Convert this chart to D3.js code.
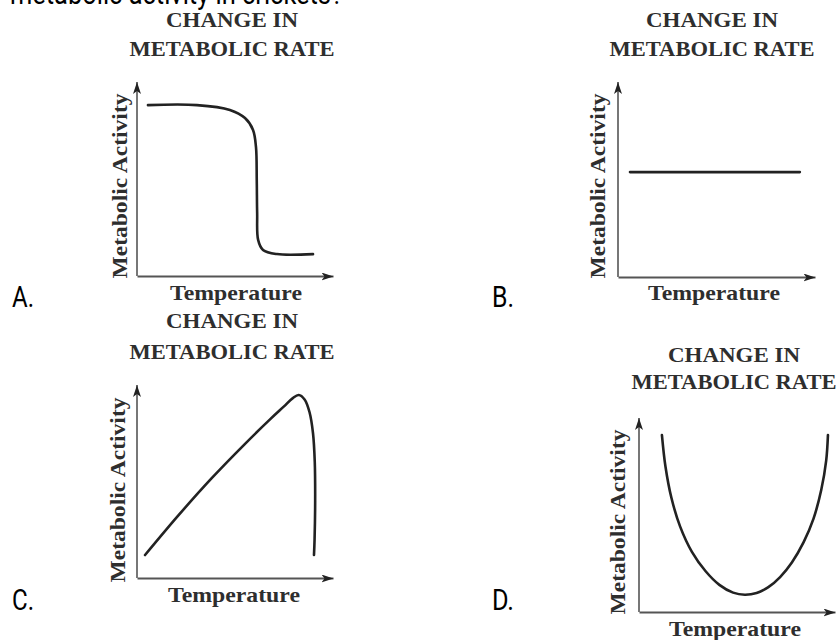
<!DOCTYPE html>
<html>
<head>
<meta charset="utf-8">
<script src="https://cdn.jsdelivr.net/npm/d3@7"></script>
<style>
  body { margin: 0; background: #fff; }
  svg { display: block; }
  .serif { font-family: "Liberation Serif", "DejaVu Serif", serif; font-weight: bold; fill: #2e2e2e; }
  .sans { font-family: Roboto, "Liberation Sans", sans-serif; fill: #000; }
</style>
</head>
<body>
<div id="chart"></div>
<script>
// ---- data ----
const question = "metabolic activity in crickets?";
const panelLetters = ["A.", "B.", "C.", "D."];
const titleLines = ["CHANGE IN", "METABOLIC RATE"];
const yLabel = "Metabolic Activity";
const xLabel = "Temperature";

// curves, in axis units 0..100 (temperature, activity)
const curveA = [[5.6, 88.1], [30.6, 88.1], [47.4, 85.6], [55.1, 81.4], [59.2, 75.3], [60.7, 66.5],
  [61.1, 49.5], [61.3, 32.5], [61.8, 18.6], [64.3, 13.4], [71.4, 11.3], [89.8, 11.3]];
const curveB = [[6.1, 53.8], [92.3, 53.8]];
const curveC = [[4.1, 11.9], [21, 32.3], [38, 51.6], [55, 69.4], [68, 82.3], [75, 88.9], [79.5, 93.2],
  [82.5, 94.8], [85.5, 92.5], [88, 86], [89.8, 75], [90.7, 60], [90.9, 40], [90.6, 20], [90.3, 11.9]];
const curveD = [[11.7, 91.2], [13.5, 75], [16.5, 59], [21, 44], [27, 31], [34, 21], [41, 14], [48, 10],
  [54, 8.9], [60, 9.8], [66, 12.8], [72, 18], [78, 25.5], [84, 36], [89, 48], [93, 63], [95.5, 78], [96.4, 91.2]];
const curves = [curveA, curveB, curveC, curveD];

// ---- layout ----
const layout = [
  { ox: 137, oy: 276, w: 196, h: 194, tx: 232, t1: 27, t2: 56, lx: 12, ly: 307, ylx: 127, yly: 186, xlx: 236, xly: 300 },
  { ox: 618, oy: 277, w: 197, h: 195, tx: 712, t1: 27, t2: 56, lx: 492, ly: 307, ylx: 605, yly: 186, xlx: 714, xly: 300 },
  { ox: 137, oy: 578, w: 196, h: 193, tx: 232, t1: 328, t2: 359, lx: 12, ly: 610, ylx: 125, yly: 490, xlx: 234, xly: 602 },
  { ox: 639, oy: 612, w: 196, h: 194, tx: 734, t1: 362, t2: 389, lx: 492, ly: 610, ylx: 625, yly: 522, xlx: 735, xly: 636 }
];

const svg = d3.select("#chart")
  .append("svg")
  .attr("width", 840)
  .attr("height", 640);

const defs = svg.append("defs");
defs.append("marker")
  .attr("id", "arrow")
  .attr("viewBox", "0 0 12 8")
  .attr("refX", 12)
  .attr("refY", 4)
  .attr("markerWidth", 12)
  .attr("markerHeight", 8)
  .attr("markerUnits", "userSpaceOnUse")
  .attr("orient", "auto")
  .append("path")
  .attr("d", "M0,0L12,4L0,8L3,4Z")
  .attr("fill", "#222");

// question text, cut off at the top
svg.append("text")
  .attr("class", "sans")
  .attr("x", 10)
  .attr("y", 4)
  .attr("font-size", 30)
  .attr("textLength", 333)
  .attr("lengthAdjust", "spacingAndGlyphs")
  .text(question);

layout.forEach((p, i) => {
  const x = d3.scaleLinear().domain([0, 100]).range([p.ox, p.ox + p.w]);
  const y = d3.scaleLinear().domain([0, 100]).range([p.oy, p.oy - p.h]);

  // titles
  svg.append("text").attr("class", "serif")
    .attr("x", p.tx).attr("y", p.t1)
    .attr("text-anchor", "middle").attr("font-size", 21)
    .attr("textLength", 132).attr("lengthAdjust", "spacingAndGlyphs")
    .text(titleLines[0]);
  svg.append("text").attr("class", "serif")
    .attr("x", p.tx).attr("y", p.t2)
    .attr("text-anchor", "middle").attr("font-size", 21)
    .attr("textLength", 205).attr("lengthAdjust", "spacingAndGlyphs")
    .text(titleLines[1]);

  // axes, no ticks, arrowed ends
  const xAxis = svg.append("g")
    .attr("transform", `translate(0,${p.oy})`)
    .call(d3.axisBottom(x).tickValues([]).tickSizeOuter(0));
  const yAxis = svg.append("g")
    .attr("transform", `translate(${p.ox},0)`)
    .call(d3.axisLeft(y).tickValues([]).tickSizeOuter(0));
  xAxis.select(".domain").attr("stroke", "#555").attr("stroke-width", 2).attr("marker-end", "url(#arrow)");
  yAxis.select(".domain").attr("stroke", "#777").attr("stroke-width", 2).attr("marker-end", "url(#arrow)");
  // make y axis run bottom -> top so the arrow sits at the top
  yAxis.select(".domain").attr("d", `M0,${y(0)}V${y(100)}`);

  // curve
  const line = d3.line()
    .x(d => x(d[0]))
    .y(d => y(d[1]))
    .curve(d3.curveCatmullRom.alpha(0.5));
  svg.append("path")
    .datum(curves[i])
    .attr("d", line)
    .attr("fill", "none")
    .attr("stroke", "#222")
    .attr("stroke-width", 2.6)
    .attr("stroke-linecap", "round");

  // axis labels
  svg.append("text").attr("class", "serif")
    .attr("transform", `translate(${p.ylx},${p.yly}) rotate(-90)`)
    .attr("text-anchor", "middle").attr("font-size", 21)
    .attr("textLength", 185).attr("lengthAdjust", "spacingAndGlyphs")
    .text(yLabel);
  svg.append("text").attr("class", "serif")
    .attr("x", p.xlx).attr("y", p.xly)
    .attr("text-anchor", "middle").attr("font-size", 21)
    .attr("textLength", 132).attr("lengthAdjust", "spacingAndGlyphs")
    .text(xLabel);

  // option letter
  svg.append("text").attr("class", "sans")
    .attr("x", p.lx).attr("y", p.ly)
    .attr("font-size", 30)
    .attr("textLength", 22).attr("lengthAdjust", "spacingAndGlyphs")
    .text(panelLetters[i]);
});
</script>
</body>
</html>
